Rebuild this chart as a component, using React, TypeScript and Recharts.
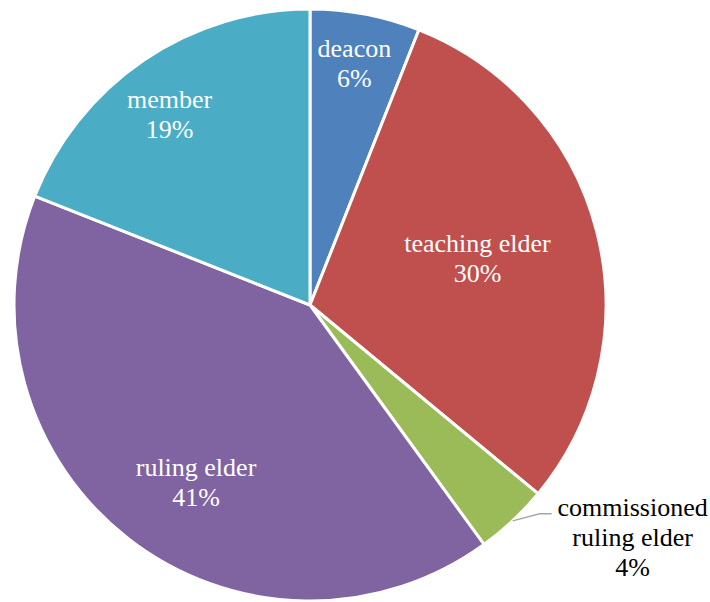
import { PieChart, Pie, Cell } from 'recharts'

const categories = ['deacon', 'teaching elder', 'commissioned ruling elder', 'ruling elder', 'member']
const shares = [6, 30, 4, 41, 19]

const colors = ['#4F81BD', '#C0504D', '#9BBB59', '#8064A2', '#4BACC6']
// Excel best-fit label spots: share of radius and angle nudge (deg) per slice
const labelRadius = [0.8, 0.58, 1, 0.737, 0.777]
const labelNudge = [0, -1.7, 0, 6.3, 3.4]
const font = '"Liberation Serif", "Times New Roman", serif'
const txt = { fontFamily: font, fontSize: 26 }

const data = categories.map((name, i) => ({ name, value: shares[i] }))
const RAD = Math.PI / 180

function Lines({ x, y, lines, fill }: { x: number; y: number; lines: string[]; fill: string }) {
  return (
    <g>
      {lines.map((l, k) => (
        <text key={k} x={x} y={y + k * 30} textAnchor="middle" fill={fill} style={txt}>
          {l}
        </text>
      ))}
    </g>
  )
}

function renderLabel(props: any) {
  const { cx, cy, midAngle, outerRadius, index, name, percent } = props
  const pct = `${Math.round(percent * 100)}%`

  if (index === 2) {
    // outside label with leader line
    const sx = cx + outerRadius * Math.cos(-midAngle * RAD)
    const sy = cy + outerRadius * Math.sin(-midAngle * RAD)
    const mx = sx + 27
    const my = sy - 7
    const ex = mx + 12
    const words = name.split(' ')
    return (
      <g>
        <path d={`M${sx},${sy}L${mx},${my}L${ex},${my}`} stroke="#A6A6A6" strokeWidth={1.3} fill="none" />
        <Lines x={ex + 81} y={my + 2} lines={[words[0], words.slice(1).join(' '), pct]} fill="#000" />
      </g>
    )
  }

  const a = (midAngle + labelNudge[index]) * RAD
  const r = outerRadius * labelRadius[index]
  const x = cx + r * Math.cos(-a)
  const y = cy + r * Math.sin(-a)
  return <Lines x={x} y={y - 15} lines={[name, pct]} fill="#fff" />
}

export default function App() {
  return (
    <div style={{ position: 'absolute', left: 0, top: 0, width: 710, height: 602, background: '#fff' }}>
      <PieChart width={710} height={602} margin={{ top: 0, right: 0, bottom: 0, left: 0 }}>
        <Pie
          data={data}
          dataKey="value"
          nameKey="name"
          cx={310}
          cy={305}
          outerRadius={296}
          startAngle={90}
          endAngle={-270}
          stroke="#fff"
          strokeWidth={3}
          label={renderLabel}
          labelLine={false}
          isAnimationActive={false}
        >
          {data.map((d, i) => (
            <Cell key={d.name} fill={colors[i]} />
          ))}
        </Pie>
      </PieChart>
    </div>
  )
}
